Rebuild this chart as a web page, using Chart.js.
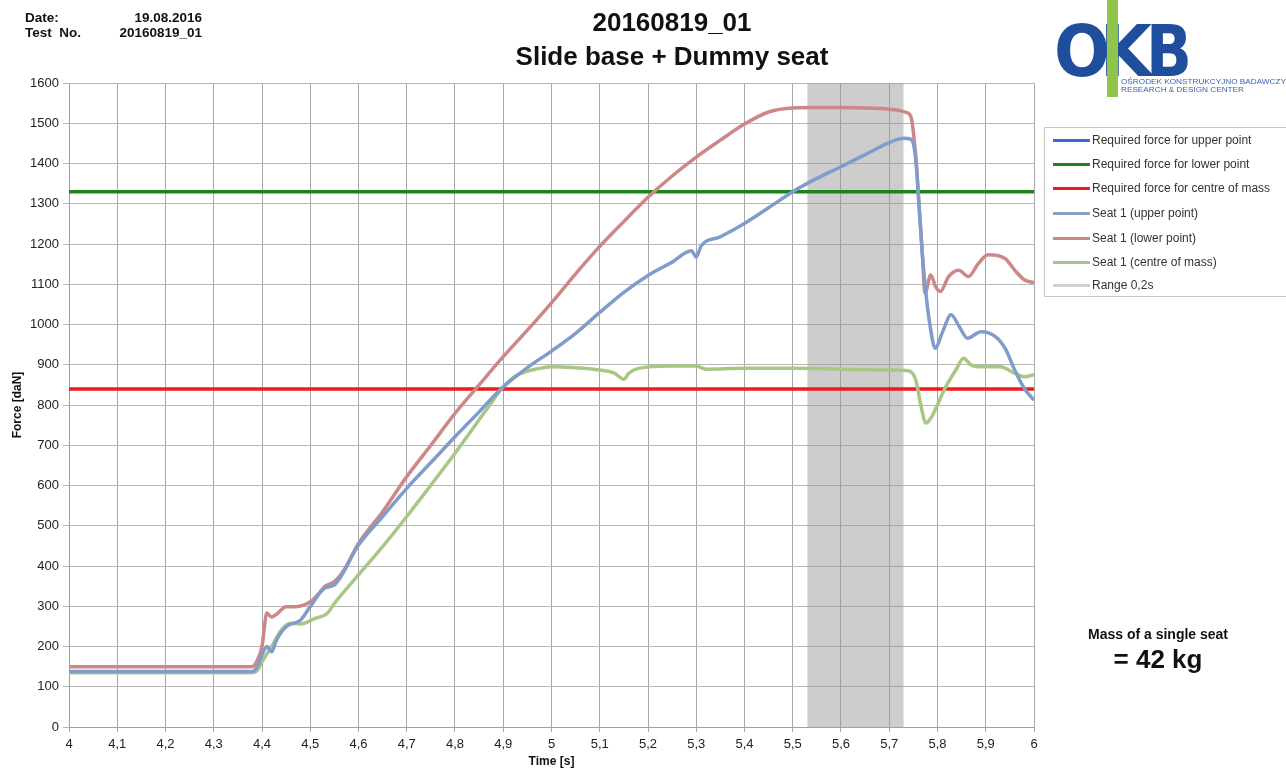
<!DOCTYPE html>
<html>
<head>
<meta charset="utf-8">
<script src="https://cdn.jsdelivr.net/npm/chart.js@4/dist/chart.umd.min.js"></script>
<style>
  html, body { margin: 0; padding: 0; background: #fff; }
  body { position: relative; width: 1286px; height: 771px; overflow: hidden;
         font-family: "Liberation Sans", Arial, sans-serif; color: #111; }
  #chart { position: absolute; left: 0; top: 0; }
  .abs { position: absolute; white-space: nowrap; }
  .hdr { font-weight: bold; font-size: 13.5px; line-height: 15px; }
  .title { font-weight: bold; font-size: 26px; line-height: 30px; left: 0; width: 1344px; text-align: center; }
  #legend { position: absolute; left: 1044px; top: 127px; width: 260px; height: 170px;
            border: 1px solid #c8c8c8; box-sizing: border-box; }
  .li { position: absolute; left: 0; height: 16px; }
  .li .sw { position: absolute; left: 8px; top: 7px; width: 37px; height: 3px; }
  .li .tx { position: absolute; left: 47px; top: 0; font-size: 12px; line-height: 16px; color: #333; white-space: nowrap; }
  .mass1 { font-weight: bold; font-size: 14px; width: 300px; left: 1008px; text-align: center; top: 626px; }
  .mass2 { font-weight: bold; font-size: 26px; width: 300px; left: 1008px; text-align: center; top: 644px; }
</style>
</head>
<body>
<canvas id="chart" width="1286" height="771"></canvas>

<div class="abs hdr" style="left:25px; top:10px;">Date:</div>
<div class="abs hdr" style="left:25px; top:25px;">Test&nbsp; No.</div>
<div class="abs hdr" style="left:102px; top:10px; width:100px; text-align:right;">19.08.2016</div>
<div class="abs hdr" style="left:102px; top:25px; width:100px; text-align:right;">20160819_01</div>

<div class="abs title" style="top:7px;">20160819_01</div>
<div class="abs title" style="top:41px;">Slide base + Dummy seat</div>

<svg class="abs" style="left:1040px; top:0;" width="246" height="110">
  <text x="14" y="76" font-family="DejaVu Sans" font-weight="bold" font-size="72" fill="#1f4e9c"
        textLength="56" lengthAdjust="spacingAndGlyphs">O</text>
  <text x="60" y="76" font-family="DejaVu Sans" font-weight="bold" font-size="72" fill="#1f4e9c"
        textLength="52" lengthAdjust="spacingAndGlyphs">K</text>
  <text x="106" y="76" font-family="DejaVu Sans" font-weight="bold" font-size="72" fill="#1f4e9c"
        textLength="46" lengthAdjust="spacingAndGlyphs">B</text>
  <rect x="67" y="0" width="11" height="97" fill="#8fc549"/>
  <text x="81" y="84" font-family="Liberation Sans" font-size="7" fill="#3a65ad"
        textLength="165" lengthAdjust="spacingAndGlyphs">OŚRODEK KONSTRUKCYJNO BADAWCZY</text>
  <text x="81" y="92" font-family="Liberation Sans" font-size="7" fill="#3a65ad"
        textLength="123" lengthAdjust="spacingAndGlyphs">RESEARCH &amp; DESIGN CENTER</text>
</svg>

<div id="legend"></div>

<div class="abs mass1">Mass of a single seat</div>
<div class="abs mass2">= 42 kg</div>

<script>
// Axis ranges and tick steps
const timeMin = 4, timeMax = 6, timeStep = 0.1;
const forceMin = 0, forceMax = 1600, forceStep = 100;

// Required force limits [daN]
const requiredUpper = [];            // no limit line drawn inside the plotted range
const requiredLower = 1330;
const requiredCentre = 840;

// Seat 1, upper point
const upperT = [4.0, 4.38, 4.39, 4.40, 4.41, 4.42, 4.43, 4.45, 4.48, 4.50, 4.53, 4.55, 4.60, 4.65, 4.70,
  4.75, 4.80, 4.85, 4.90, 4.95, 5.00, 5.05, 5.10, 5.15, 5.20, 5.25, 5.29, 5.30, 5.31, 5.35, 5.40, 5.45,
  5.50, 5.55, 5.60, 5.65, 5.70, 5.73, 5.745, 5.755, 5.762, 5.769, 5.776, 5.786, 5.795, 5.81, 5.828,
  5.845, 5.862, 5.89, 5.92, 5.94, 5.96, 5.98, 6.0];
const upperF = [138, 138, 150, 179, 200, 187, 216, 249, 266, 299, 345, 353, 452, 523, 593,
  657, 721, 783, 845, 893, 934, 978, 1030, 1080, 1122, 1155, 1183, 1168, 1195, 1218, 1251, 1290,
  1330, 1363, 1392, 1422, 1452, 1463, 1460, 1410, 1290, 1168, 1077, 986, 941, 980, 1024,
  995, 966, 982, 970, 941, 887, 841, 812];

// Seat 1, lower point
const lowerT = [4.0, 4.38, 4.39, 4.40, 4.41, 4.42, 4.43, 4.45, 4.47, 4.50, 4.52, 4.53, 4.55, 4.57, 4.60,
  4.65, 4.70, 4.75, 4.80, 4.85, 4.90, 4.95, 5.00, 5.05, 5.10, 5.15, 5.20, 5.25, 5.30, 5.35, 5.40, 5.45,
  5.50, 5.55, 5.60, 5.65, 5.70, 5.72, 5.735, 5.745, 5.755, 5.762, 5.769, 5.774, 5.786, 5.796, 5.806,
  5.823, 5.844, 5.864, 5.885, 5.905, 5.94, 5.96, 5.98, 6.0];
const lowerF = [150, 150, 165, 200, 283, 273, 280, 299, 299, 311, 335, 349, 361, 390, 456,
  535, 622, 700, 779, 850, 920, 986, 1054, 1126, 1194, 1256, 1316, 1369, 1416, 1458, 1498, 1528,
  1538, 1539, 1539, 1538, 1535, 1532, 1527, 1516, 1417, 1293, 1168, 1077, 1123, 1094, 1082,
  1119, 1135, 1119, 1152, 1173, 1164, 1135, 1111, 1104];

// Seat 1, centre of mass
const centreT = [4.0, 4.38, 4.39, 4.40, 4.42, 4.44, 4.46, 4.48, 4.51, 4.535, 4.55, 4.60, 4.65, 4.70, 4.75,
  4.80, 4.865, 4.90, 4.93, 4.975, 5.00, 5.045, 5.10, 5.13, 5.15, 5.16, 5.18, 5.25, 5.30, 5.32, 5.40,
  5.50, 5.60, 5.70, 5.74, 5.755, 5.766, 5.776, 5.786, 5.817, 5.838, 5.854, 5.87, 5.89, 5.93, 5.96, 5.98, 6.0];
const centreF = [135, 135, 140, 162, 200, 241, 258, 256, 270, 282, 307, 378, 448, 523, 601,
  680, 788, 845, 875, 891, 895, 893, 887, 879, 864, 879, 891, 897, 897, 889, 891,
  891, 889, 887, 885, 862, 796, 755, 767, 845, 887, 916, 899, 895, 895, 879, 870, 875];

// Evaluation window of 0.2 s
const rangeStart = 5.53, rangeEnd = 5.73;

const toPoints = (ts, vs) => ts.map((t, i) => ({ x: t, y: vs[i] }));
const flatLine = v => [{ x: timeMin, y: v }, { x: timeMax, y: v }];

const datasets = [
  { label: 'Required force for upper point', data: requiredUpper,
    borderColor: '#2f6fd6', legendColor: '#2f6fd6', borderWidth: 3, order: 2 },
  { label: 'Required force for lower point', data: flatLine(requiredLower),
    borderColor: '#1b841b', legendColor: '#1b841b', borderWidth: 3.5, order: 2 },
  { label: 'Required force for centre of mass', data: flatLine(requiredCentre),
    borderColor: '#f01a1a', legendColor: '#f01a1a', borderWidth: 3.5, order: 2 },
  { label: 'Seat 1 (upper point)', data: toPoints(upperT, upperF),
    borderColor: '#7f9ccb', legendColor: '#8a9fc4', borderWidth: 3.5, order: 1, cubicInterpolationMode: 'monotone' },
  { label: 'Seat 1 (lower point)', data: toPoints(lowerT, lowerF),
    borderColor: '#cd8787', legendColor: '#cd8787', borderWidth: 3.5, order: 1, cubicInterpolationMode: 'monotone' },
  { label: 'Seat 1 (centre of mass)', data: toPoints(centreT, centreF),
    borderColor: '#a9c784', legendColor: '#a9c784', borderWidth: 3.5, order: 1, cubicInterpolationMode: 'monotone' },
  { label: 'Range 0,2s', data: [{ x: rangeStart, y: forceMax }, { x: rangeEnd, y: forceMax }],
    borderColor: 'rgba(0,0,0,0)', borderWidth: 0, fill: 'origin',
    backgroundColor: 'rgba(150,150,150,0.48)', legendColor: '#cfcfcf', order: 3 }
];

const tickFont = { family: '"Liberation Sans", Arial, sans-serif', size: 13 };
const xTickFont = { family: '"Liberation Sans Narrow", "Liberation Sans", Arial, sans-serif', size: 13 };

const chart = new Chart(document.getElementById('chart'), {
  type: 'line',
  data: { datasets },
  options: {
    responsive: false,
    animation: false,
    devicePixelRatio: 1,
    parsing: false,
    elements: { point: { radius: 0 }, line: { fill: false } },
    layout: { padding: { left: 0, top: 83, right: 252, bottom: 0 } },
    plugins: { legend: { display: false }, tooltip: { enabled: false } },
    scales: {
      x: {
        type: 'linear', min: timeMin, max: timeMax,
        afterFit: s => { s.height = 44; },
        ticks: {
          stepSize: timeStep, color: '#222', font: xTickFont, padding: 5, maxRotation: 0, autoSkip: false,
          callback: v => String(Math.round(v * 10) / 10).replace('.', ',')
        },
        grid: { color: '#a8a8a8', lineWidth: 1, tickLength: 5 },
        border: { color: '#a0a0a0' },
        title: { display: true, text: 'Time [s]', color: '#111',
                 font: { family: '"Liberation Sans", Arial, sans-serif', size: 12, weight: 'bold' },
                 padding: { top: 0, bottom: 2 } }
      },
      y: {
        min: forceMin, max: forceMax,
        afterFit: s => { s.width = 69; },
        ticks: { stepSize: forceStep, color: '#222', font: tickFont, padding: 4,
                 callback: v => String(v) },
        grid: { color: '#b8b8b8', lineWidth: 1, tickLength: 6 },
        border: { color: '#a0a0a0' },
        title: { display: true, text: 'Force [daN]', color: '#111',
                 font: { family: '"Liberation Sans", Arial, sans-serif', size: 12, weight: 'bold' },
                 padding: { top: 10, bottom: 0 } }
      }
    }
  }
});

// Legend box built from the dataset labels and colours
const legendEl = document.getElementById('legend');
const rowTops = [4, 28, 52, 77, 102, 126, 149];
chart.data.datasets.forEach((ds, i) => {
  const row = document.createElement('div');
  row.className = 'li';
  row.style.top = rowTops[i] + 'px';
  const sw = document.createElement('div');
  sw.className = 'sw';
  sw.style.background = ds.legendColor;
  const tx = document.createElement('div');
  tx.className = 'tx';
  tx.textContent = ds.label;
  row.appendChild(sw);
  row.appendChild(tx);
  legendEl.appendChild(row);
});
</script>
</body>
</html>
